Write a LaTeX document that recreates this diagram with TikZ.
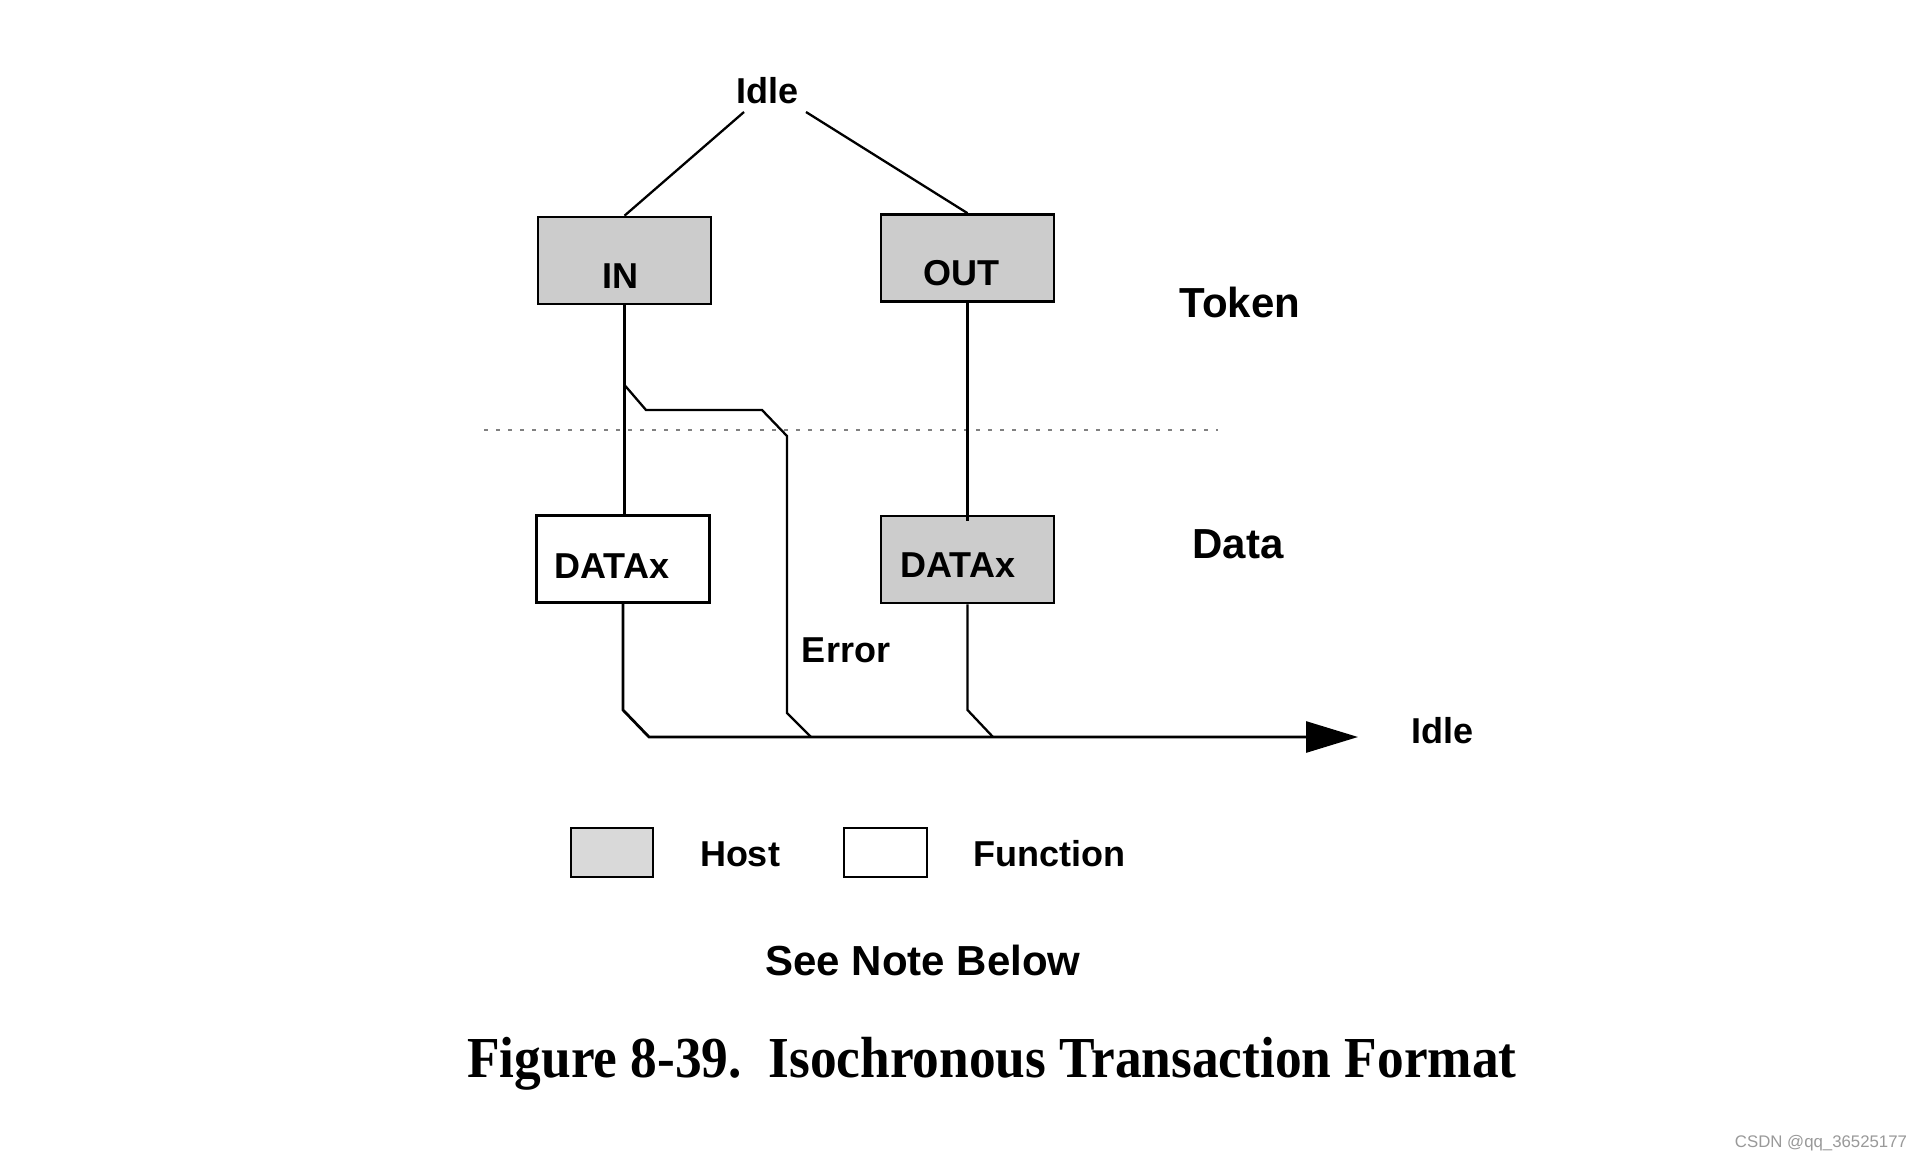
\documentclass[tikz,border=0pt]{standalone}
\usepackage{fontspec}
\setmainfont{Liberation Sans}
\newfontfamily\capfont{Liberation Serif}
\usetikzlibrary{arrows.meta,calc}
\definecolor{hostgray}{HTML}{CCCCCC}
\definecolor{leggray}{HTML}{D9D9D9}
\definecolor{dotgray}{HTML}{808080}
\begin{document}
\begin{tikzpicture}[x=1pt,y=-1pt,
  txt/.style={font=\fontsize{36}{40}\selectfont\bfseries, inner sep=0pt, anchor=base},
  bigtxt/.style={font=\fontsize{42}{46}\selectfont\bfseries, inner sep=0pt, anchor=base},
  hostbox/.style={draw=black, line width=2.6pt, fill=hostgray, minimum width=173pt, minimum height=87pt, inner sep=0pt},
  funcbox/.style={draw=black, line width=2.6pt, fill=white, minimum width=173pt, minimum height=87pt, inner sep=0pt},
  wire/.style={line width=2.3pt, line cap=butt, line join=miter}
]
\useasboundingbox (0,0) rectangle (1920,1159);
\fill[white] (0,0) rectangle (1920,1159);

% dotted separator
\draw[dotgray, line width=1.5pt, dash pattern=on 4pt off 8pt] (484,430) -- (1218,430);

% boxes
\node[hostbox] (in) at (624.5,260.5) {};
\node[hostbox] (out) at (967.5,258) {};
\node[funcbox] (dl) at (623,559) {};
\node[hostbox] (dr) at (967.5,559.5) {};

% texts
\node[txt] (idle) at (767,103) {Idle};
\node[txt] (intxt) at (620,288) {IN};
\node[txt] (outtxt) at (961,285) {OUT};
\node[txt] (dltxt) at (612,578) {DATAx};
\node[txt] (drtxt) at (958,577) {DATAx};
\node[bigtxt] (token) at (1240,317) {Token};
\node[bigtxt] (data) at (1238,558) {Data};
\node[txt] (error) at (846,662) {Error};
\node[txt] (idle2) at (1442,743) {Idle};

% connectors from Idle
\coordinate (idleL) at (744,112);
\coordinate (idleR) at (806,112);
\draw[wire] (idleL) -- (in.north);
\draw[wire] (idleR) -- (out.north);

% IN to DATAx
\draw[wire] (in.south) -- (in.south |- dl.north);
% Error branch
\coordinate (br) at (624.5,385);
\draw[wire] (br) -- (646,410) -- (762,410) -- (787,436) -- (787,713) -- (811,737);
% OUT to DATAx
\draw[wire] (out.south) -- ($(out.south |- dr.north)+(0,6)$);
% bottom
\coordinate (arrowend) at (1358,737);
\draw[wire, line width=2.8pt, -{Triangle[length=52pt,width=31pt]}] (dl.south) -- (623,710) -- (649,737) -- (arrowend);
\draw[wire] (dr.south) -- (967.5,710) -- (993,737);

% legend
\node[draw=black, line width=2.6pt, fill=leggray, minimum width=82pt, minimum height=49pt, inner sep=0pt] (lhost) at (612,852.5) {};
\node[txt] (lhosttxt) at (740,866) {Host};
\node[draw=black, line width=2.6pt, fill=white, minimum width=83pt, minimum height=49pt, inner sep=0pt] (lfunc) at (885.5,852.5) {};
\node[txt] (lfunctxt) at (1049,866) {Function};

\node[bigtxt] (note) at (923,975) {See Note Below};

% caption
\node[inner sep=0pt, anchor=base] (caption) at (992,1077) {\scalebox{0.92}[1]{\capfont\fontsize{58}{62}\selectfont\bfseries Figure 8-39.\hspace{0.5em}Isochronous Transaction Format}};

% watermark
\node[inner sep=0pt, anchor=base, text=black!40, font=\fontsize{16.8}{19}\selectfont] (wm) at (1821,1147) {CSDN @qq\_36525177};
\end{tikzpicture}
\end{document}
